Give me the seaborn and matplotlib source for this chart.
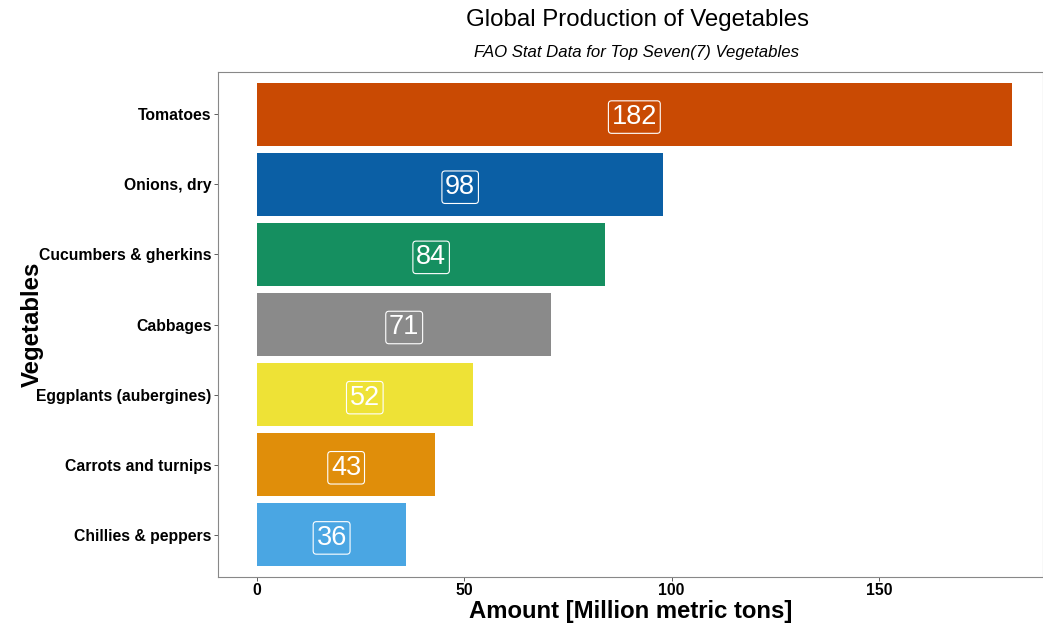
import matplotlib
matplotlib.use("Agg")
import matplotlib.pyplot as plt
import seaborn as sns
import pandas as pd

vegetables = ["Tomatoes", "Onions, dry", "Cucumbers & gherkins", "Cabbages",
              "Eggplants (aubergines)", "Carrots and turnips", "Chillies & peppers"]
amounts = [182, 98, 84, 71, 52, 43, 36]
bar_colors = ["#C94A03", "#0B5FA5", "#158F60", "#8A8A8A", "#EEE236", "#E08E0A", "#4AA6E3"]
x_ticks = [0, 50, 100, 150]

sns.set_theme(style="white")
plt.rcParams["font.family"] = ["Liberation Sans", "DejaVu Sans"]
plt.rcParams["text.color"] = "black"
plt.rcParams["axes.labelcolor"] = "black"

df = pd.DataFrame({"Vegetable": vegetables, "Amount": amounts})

fig = plt.figure(figsize=(10.43, 6.25), dpi=100)
ax = fig.add_axes([218 / 1043, 1 - 577 / 625, (1043 - 218) / 1043, (577 - 72) / 625])

sns.barplot(data=df, x="Amount", y="Vegetable", hue="Vegetable",
            palette=bar_colors, order=vegetables, width=0.9,
            legend=False, ax=ax, saturation=1, linewidth=0)

for i, v in enumerate(amounts):
    ax.text(v / 2, i, str(v), ha="center", va="center_baseline", color="white", fontsize=19.5,
            bbox=dict(boxstyle="round,pad=0.12,rounding_size=0.12", fc="none",
                      ec="white", lw=0.8))

ax.set_xlim(-9.4, 189.55)
ax.set_ylim(6.6, -0.6)
ax.set_xticks(x_ticks)
ax.set_xticklabels([str(t) for t in x_ticks], fontsize=11.3, fontweight="bold", color="black")
for lbl in ax.get_yticklabels():
    lbl.set_fontsize(11.3)
    lbl.set_fontweight("bold")
    lbl.set_color("black")

ax.tick_params(axis="both", length=3, width=0.6, color="#444444", pad=1.5, bottom=True, left=True)
for s in ax.spines.values():
    s.set_color("#888888")
    s.set_linewidth(0.8)

ax.set_xlabel("Amount [Million metric tons]", fontsize=17.2, fontweight="bold", labelpad=1)
ax.set_ylabel("Vegetables", fontsize=17.3, fontweight="bold", labelpad=-5)

fig.text(637 / 1043, 1 - 20 / 625, "Global Production of Vegetables",
         ha="center", va="center", fontsize=17.3, color="black")
fig.text(637 / 1043, 1 - 53 / 625, "FAO Stat Data for Top Seven(7) Vegetables",
         ha="center", va="center", fontsize=12.1, style="italic", color="black")

fig.savefig("out.png", dpi=100)
